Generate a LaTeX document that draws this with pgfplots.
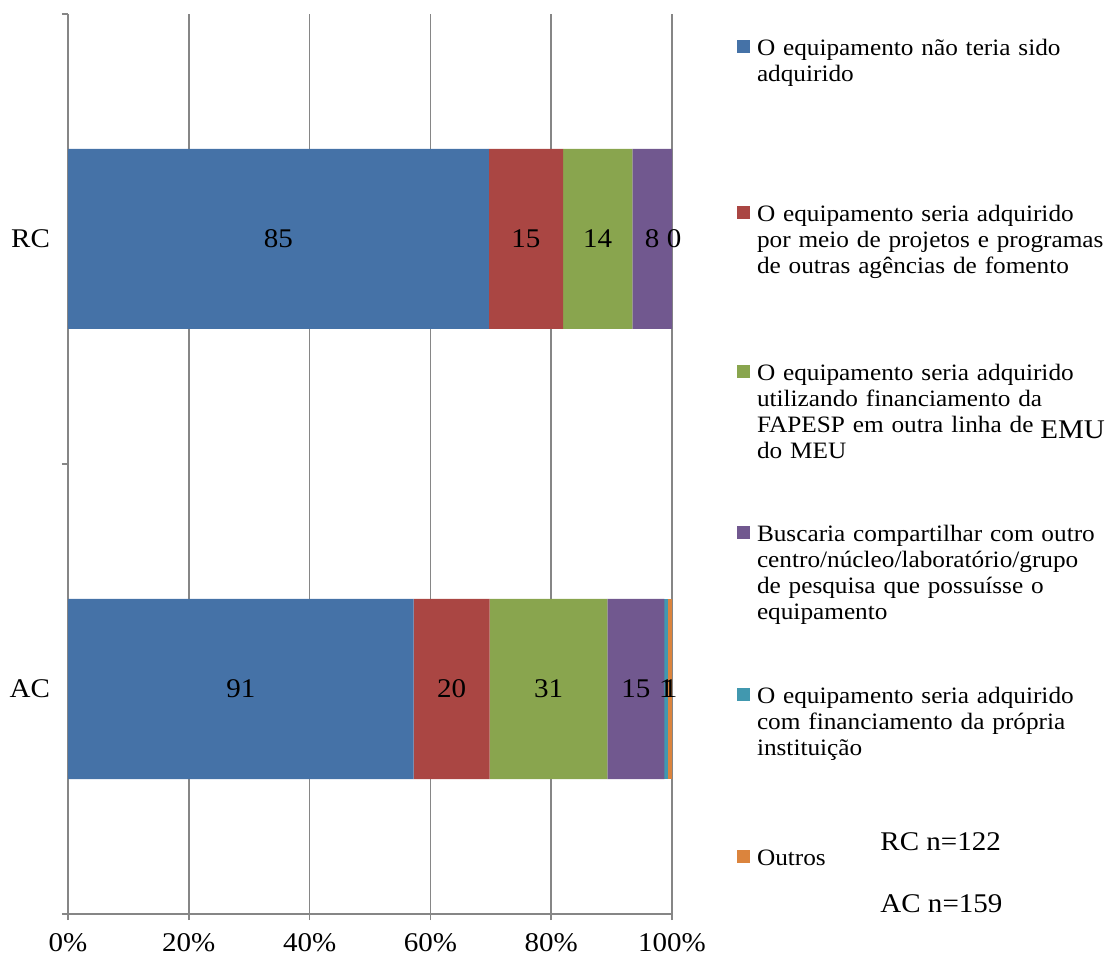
\documentclass[border=0pt]{standalone}
\usepackage{fontspec}
\setmainfont{Liberation Serif}[FakeStretch=1.075]
\usepackage{pgfplots}
\pgfplotsset{compat=1.18}
\usepackage{pgfplotstable}

% series colours
\definecolor{sNao}{HTML}{4572A7}
\definecolor{sOutras}{HTML}{AA4643}
\definecolor{sFapesp}{HTML}{89A54E}
\definecolor{sCompart}{HTML}{71588F}
\definecolor{sInst}{HTML}{4198AF}
\definecolor{sOutros}{HTML}{DB843D}
\definecolor{gridgray}{HTML}{868686}

% y: 1 = RC, 0 = AC; n = answers; total = respondents of the group
\pgfplotstableread{
y n total
1 85 122
0 91 159
}\tNao
\pgfplotstableread{
y n total
1 15 122
0 20 159
}\tOutras
\pgfplotstableread{
y n total
1 14 122
0 31 159
}\tFapesp
\pgfplotstableread{
y n total
1 8 122
0 15 159
}\tCompart
\pgfplotstableread{
y n total
1 0 122
0 1 159
}\tInst
\pgfplotstableread{
y n total
1 0 122
0 1 159
}\tOutros

\newcommand{\lblfont}{\fontsize{13.5}{16}\selectfont}
\newcommand{\lgdfont}{\fontsize{11.75}{13.15}\selectfont}
\tikzset{lgd/.style={text width=190pt, align=left, inner sep=0pt,
  text height=8pt, text depth=#1, anchor=base west}}

\begin{document}
\begin{tikzpicture}
\path[use as bounding box] (0,0) rectangle (553pt,481.5pt);
\begin{axis}[
  at={(34pt,24.5pt)}, anchor=south west,
  width=302pt, height=450pt, scale only axis,
  clip=false,
  xbar stacked, bar width=0.4,
  xmin=0, xmax=100, ymin=-0.5, ymax=1.5,
  xtick={0,20,...,100},
  xticklabel={\pgfmathprintnumber{\tick}\%},
  xticklabel style={yshift=-3pt},
  ytick={-0.5,0.5,1.5}, yticklabels={,,},
  extra y ticks={0,1}, extra y tick labels={AC,RC},
  extra y tick style={major tick length=0pt,
    yticklabel style={xshift=-5.5pt}},
  tick align=outside, major tick length=3pt,
  xmajorgrids,
  grid style={line width=0.75pt, gridgray},
  axis x line*=bottom, axis y line*=left,
  axis line style={line width=0.75pt, gridgray},
  tick style={line width=0.75pt, gridgray},
  tick label style={font=\lblfont, text=black},
  /pgf/number format/assume math mode=true,
  point meta=explicit,
  nodes near coords,
  every node near coord/.append style={font=\lblfont, text=black,
    anchor=center},
  legend style={at={(1.10762,0.97222)}, anchor=north west, draw=none,
    fill=none, inner sep=0pt, outer sep=0pt, row sep=0pt,
    column sep=3.5pt, font=\lgdfont, cells={anchor=base west}},
  legend image code/.code={\fill[#1] (0pt,1pt) rectangle (6.5pt,7.5pt);},
]
\addplot+[fill=sNao, draw=none] table[x expr=\thisrow{n}/\thisrow{total}*100, y=y, meta=n] {\tNao};
\addlegendentry[lgd=75pt]{O equipamento não teria sido\\adquirido}
\addplot+[fill=sOutras, draw=none] table[x expr=\thisrow{n}/\thisrow{total}*100, y=y, meta=n] {\tOutras};
\addlegendentry[lgd=71.5pt]{O equipamento seria adquirido\\por meio de projetos e programas\\de outras agências de fomento}
\addplot+[fill=sFapesp, draw=none] table[x expr=\thisrow{n}/\thisrow{total}*100, y=y, meta=n] {\tFapesp};
\addlegendentry[lgd=72.5pt]{O equipamento seria adquirido\\utilizando financiamento da\\FAPESP em outra linha de\\do MEU}
\addplot+[fill=sCompart, draw=none] table[x expr=\thisrow{n}/\thisrow{total}*100, y=y, meta=n] {\tCompart};
\addlegendentry[lgd=73pt]{Buscaria compartilhar com outro\\centro/núcleo/laboratório/grupo\\de pesquisa que possuísse o\\equipamento}
\addplot+[fill=sInst, draw=none] table[x expr=\thisrow{n}/\thisrow{total}*100, y=y, meta=n] {\tInst};
\addlegendentry[lgd=73pt]{O equipamento seria adquirido\\com financiamento da própria\\instituição}
\addplot+[fill=sOutros, draw=none] table[x expr=\thisrow{n}/\thisrow{total}*100, y=y, meta=n] {\tOutros};
\addlegendentry[lgd=4pt]{Outros}
% end of the RC bar, where its zero-length segments end
\coordinate (rcEnd) at (axis cs:100,1);
\end{axis}
% value label of the zero-length RC segments
\node[font=\lblfont, anchor=center, xshift=1pt] at (rcEnd) {0};
\node[anchor=base west, inner sep=0pt, font=\lblfont] at (520pt,262pt) {EMU};
\node[anchor=base west, inner sep=0pt, font=\lblfont] at (440pt,56.5pt) {RC n=122};
\node[anchor=base west, inner sep=0pt, font=\lblfont] at (440pt,25.5pt) {AC n=159};
\end{tikzpicture}
\end{document}
